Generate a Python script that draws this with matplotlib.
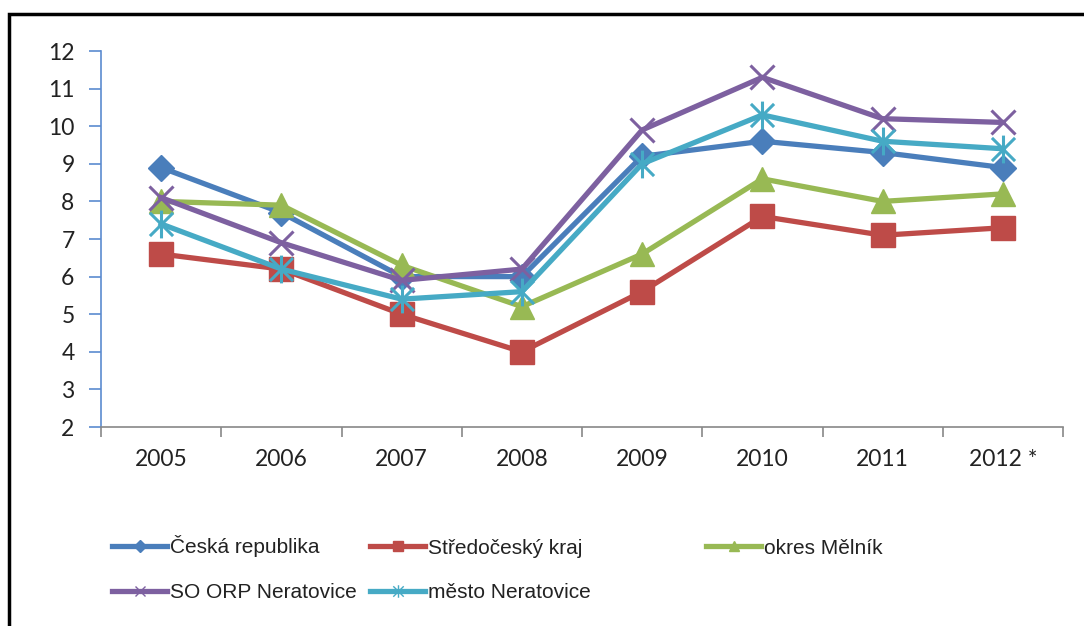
import matplotlib
matplotlib.use("Agg")
import matplotlib.pyplot as plt
from matplotlib.lines import Line2D
from matplotlib.patches import Rectangle
from matplotlib.path import Path

# data
years = ["2005", "2006", "2007", "2008", "2009", "2010", "2011", "2012 *"]
cr = [8.9, 7.7, 6.0, 6.0, 9.2, 9.6, 9.3, 8.9]
stc = [6.6, 6.2, 5.0, 4.0, 5.6, 7.6, 7.1, 7.3]
melnik = [8.0, 7.9, 6.3, 5.2, 6.6, 8.6, 8.0, 8.2]
orp = [8.1, 6.9, 5.9, 6.2, 9.9, 11.3, 10.2, 10.1]
mesto = [7.4, 6.2, 5.4, 5.6, 9.0, 10.3, 9.6, 9.4]
labels = ["Česká republika", "Středočeský kraj", "okres Mělník",
          "SO ORP Neratovice", "město Neratovice"]

colors = ["#4A7EBB", "#BE4B48", "#98B954", "#7D60A0", "#46AAC5"]

# Excel-like asterisk: an x plus a vertical stroke
asterisk = Path(
    [(-0.5, -0.5), (0.5, 0.5), (-0.5, 0.5), (0.5, -0.5), (0, -0.6), (0, 0.6)],
    [Path.MOVETO, Path.LINETO, Path.MOVETO, Path.LINETO, Path.MOVETO, Path.LINETO],
)

W, H = 1084, 626
fig = plt.figure(figsize=(W / 100, H / 100), dpi=100)
ax = fig.add_axes([101 / W, 1 - 427 / H, (1063 - 101) / W, (427 - 51) / H])

x = list(range(len(years)))
series = [cr, stc, melnik, orp, mesto]
styles = [
    dict(marker="D", ms=13),
    dict(marker="s", ms=17),
    dict(marker="^", ms=17),
    dict(marker="x", ms=17, mew=2.2),
    dict(marker=asterisk, ms=20, mew=2.2),
]
handles = []
for vals, col, st, lab in zip(series, colors, styles, labels):
    ax.plot(x, vals, color=col, lw=3.8, mfc=col, mec=col, label=lab, **st)
    hst = dict(st)
    hst["ms"] = st["ms"] * 0.45
    hst["mew"] = 1.0
    handles.append(Line2D([], [], color=col, lw=3.8, mfc=col, mec=col, **hst))

ax.set_xlim(-0.5, len(years) - 0.5)
ax.set_ylim(2, 12)
ax.set_yticks(range(2, 13))

# category labels at centers, ticks at boundaries
ax.set_xticks([i - 0.5 for i in range(len(years) + 1)])
ax.set_xticklabels([])
ax.set_xticks(x, minor=True)
ax.set_xticklabels(years, minor=True, fontsize=16.5, family="Lato", color="#222222")
ax.tick_params(axis="x", which="minor", length=0, pad=16)
ax.tick_params(axis="x", which="major", length=7, color="#888888", width=1.2)
ax.tick_params(axis="y", length=9, color="#5B8BD0", width=1.2, pad=10,
               labelsize=16.5, labelcolor="#222222")
for t in ax.get_yticklabels():
    t.set_family("Lato")

for s in ["top", "right"]:
    ax.spines[s].set_visible(False)
ax.spines["left"].set_color("#5B8BD0")
ax.spines["left"].set_linewidth(1.2)
ax.spines["bottom"].set_color("#888888")
ax.spines["bottom"].set_linewidth(1.2)

# legend: one entry per slot, placed like the original
lfont = dict(family="Liberation Sans", size=15)
slots = [(112, 546), (370, 548), (706, 548), (112, 593), (370, 593)]
for h, lab, (lx, ly) in zip(handles, labels, slots):
    fig.legend([h], [lab], loc="center left",
               bbox_to_anchor=(lx / W, 1 - ly / H),
               frameon=False, prop=lfont, handlelength=2.65, handletextpad=0.15,
               borderpad=0, borderaxespad=0, labelcolor="#222222")

# outer chart frame (cropped on right and bottom)
fig.patches.append(Rectangle((8.5 / W, -0.1), 1.2, 1 - 14 / H + 0.1,
                             transform=fig.transFigure, fill=False,
                             ec="black", lw=2.5, clip_on=False))

fig.savefig("out.png", dpi=100)
